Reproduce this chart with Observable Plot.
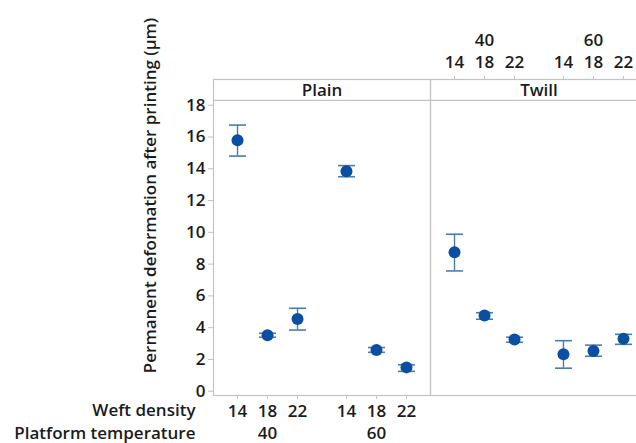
<!DOCTYPE html>
<html>
<head>
<meta charset="utf-8">
<script src="https://cdn.jsdelivr.net/npm/d3@7"></script>
<script src="https://cdn.jsdelivr.net/npm/@observablehq/plot@0.6"></script>
<style>
  html, body { margin: 0; padding: 0; background: #fff; overflow: hidden; }
</style>
</head>
<body>
<div id="chart"></div>
<script>
// Interval plot: permanent deformation after printing, by fabric,
// platform temperature and weft density (mean with interval bars).
const fabrics = ["Plain", "Twill"];
const temperatures = [40, 60];
const densities = [14, 18, 22];

// Values ordered 40/14, 40/18, 40/22, 60/14, 60/18, 60/22
const meanPlain = [15.8, 3.52, 4.55, 13.85, 2.6, 1.5];
const lowPlain  = [14.8, 3.4, 3.85, 13.5, 2.45, 1.25];
const highPlain = [16.75, 3.65, 5.22, 14.2, 2.75, 1.66];

const meanTwill = [8.75, 4.76, 3.26, 2.32, 2.53, 3.3];
const lowTwill  = [7.57, 4.53, 3.08, 1.45, 2.2, 2.95];
const highTwill = [9.88, 4.94, 3.4, 3.18, 2.9, 3.58];

const yTicks = [0, 2, 4, 6, 8, 10, 12, 14, 16, 18];
const yTitle = "Permanent deformation after printing (μm)";
const densityTitle = "Weft density";
const temperatureTitle = "Platform temperature";

// Layout of the categorical x positions inside a panel
const groupStep = 3.63;        // slots from one temperature group to the next
const xPad = 0.8;              // room left and right of the outer points
const yFloor = -0.27, yPanelTop = 18.3, yStripTop = 19.62;

const series = {
  Plain: {mean: meanPlain, low: lowPlain, high: highPlain},
  Twill: {mean: meanTwill, low: lowTwill, high: highTwill}
};

const rows = [];
for (const fabric of fabrics) {
  temperatures.forEach((temperature, ti) => {
    densities.forEach((density, di) => {
      const i = ti * densities.length + di;
      rows.push({
        fabric, temperature, density,
        pos: ti * groupStep + di,
        mean: series[fabric].mean[i],
        low: series[fabric].low[i],
        high: series[fabric].high[i]
      });
    });
  });
}

const posTicks = [...new Set(rows.map(d => d.pos))];
const densityAt = new Map(rows.map(d => [d.pos, d.density]));
const groupCenters = temperatures.map((t, ti) => ti * groupStep + (densities.length - 1) / 2);
const temperatureAt = new Map(groupCenters.map((c, i) => [c, temperatures[i]]));
const lastPos = d3.max(posTicks);

const blue = "#0b4fa2";
const barBlue = "#4c7cab";
const gray = "#c3c3c3";
const ink = "#1b1b1b";

// horizontal stroke used as the cap of each interval bar
const cap = {
  draw(context, size) {
    const r = Math.sqrt(size / Math.PI);
    context.moveTo(-r, 0);
    context.lineTo(r, 0);
  }
};

const leftPanel = [{fabric: "Plain"}];

const chart = Plot.plot({
  width: 636,
  height: 443,
  marginLeft: 213,
  marginRight: -11,
  marginTop: 79,
  marginBottom: 48,
  style: {fontFamily: "'Open Sans', sans-serif", fontSize: "17px", fontWeight: 600, color: ink, background: "#fff"},
  fx: {domain: fabrics, padding: 0, axis: null},
  x: {domain: [-xPad, lastPos + xPad], axis: null},
  y: {domain: [yFloor, yStripTop], axis: null},
  marks: [
    Plot.frame({stroke: gray, strokeWidth: 1.2}),
    Plot.ruleY([yPanelTop], {stroke: gray, strokeWidth: 1.2}),
    Plot.text(fabrics, {fx: d => d, text: d => d, frameAnchor: "top", lineAnchor: "middle", dy: 11, fill: ink}),

    // y axis on the left panel
    Plot.axisY(yTicks, {anchor: "left", tickSize: 5, tickPadding: 3, label: null, stroke: gray, fill: ink}),
    Plot.text(leftPanel, {
      fx: "fabric", text: () => yTitle, frameAnchor: "left", textAnchor: "middle",
      lineAnchor: "middle", rotate: -90, dx: -63, dy: -42, fill: ink
    }),

    // weft density and temperature under the Plain panel
    Plot.axisX(posTicks, {
      anchor: "bottom", facetAnchor: "left", tickSize: 4, tickPadding: 5,
      tickFormat: p => densityAt.get(p), label: null, stroke: gray, fill: ink
    }),
    Plot.axisX(groupCenters, {
      anchor: "bottom", facetAnchor: "left", tickSize: 0, tickPadding: 31,
      tickFormat: c => temperatureAt.get(c), label: null, fill: ink
    }),
    Plot.text(leftPanel, {
      fx: "fabric", text: () => densityTitle, frameAnchor: "bottom-left",
      textAnchor: "end", lineAnchor: "middle", dx: -18, dy: 15, fill: ink
    }),
    Plot.text(leftPanel, {
      fx: "fabric", text: () => temperatureTitle, frameAnchor: "bottom-left",
      textAnchor: "end", lineAnchor: "middle", dx: -18, dy: 38, fill: ink
    }),

    // the same two scales above the Twill panel
    Plot.axisX(posTicks, {
      anchor: "top", facetAnchor: "right", tickSize: 4, tickPadding: 8,
      tickFormat: p => densityAt.get(p), label: null, stroke: gray, fill: ink
    }),
    Plot.axisX(groupCenters, {
      anchor: "top", facetAnchor: "right", tickSize: 0, tickPadding: 34,
      tickFormat: c => temperatureAt.get(c), label: null, fill: ink
    }),

    // interval bars, caps and means
    Plot.ruleX(rows, {fx: "fabric", x: "pos", y1: "low", y2: "high", stroke: barBlue, strokeWidth: 1.4}),
    Plot.dot(rows, {fx: "fabric", x: "pos", y: "high", symbol: cap, r: 8.5, stroke: barBlue, strokeWidth: 1.6, fill: "none"}),
    Plot.dot(rows, {fx: "fabric", x: "pos", y: "low", symbol: cap, r: 8.5, stroke: barBlue, strokeWidth: 1.6, fill: "none"}),
    Plot.dot(rows, {fx: "fabric", x: "pos", y: "mean", r: 6, fill: blue, stroke: "none"})
  ]
});

document.getElementById("chart").append(chart);
</script>
</body>
</html>
